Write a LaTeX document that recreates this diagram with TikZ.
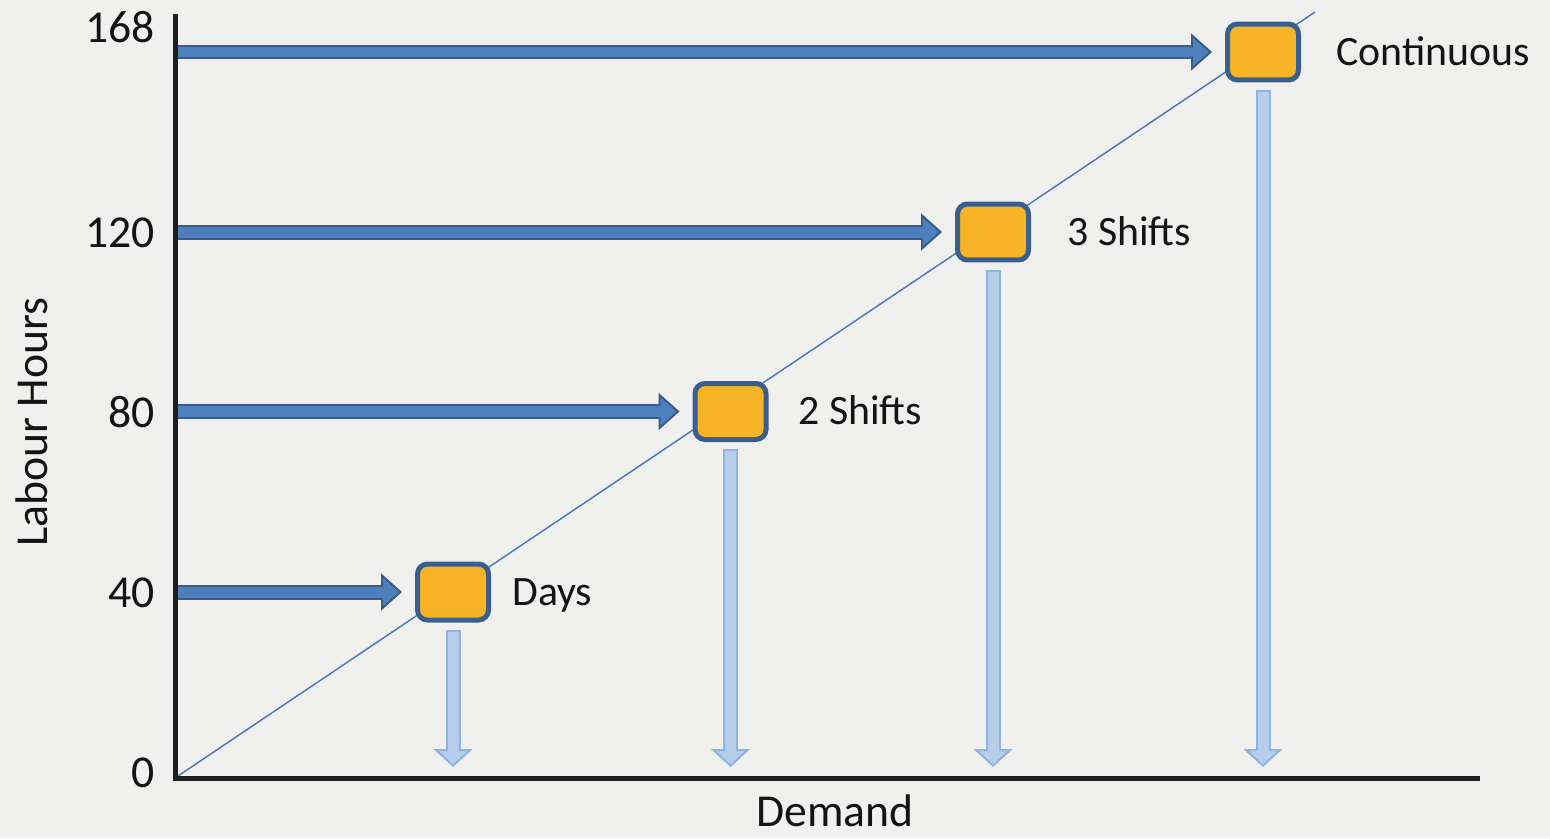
\documentclass[tikz,border=0pt]{standalone}
\usepackage{fontspec}
\setmainfont{Carlito}
\usetikzlibrary{arrows.meta,positioning,calc}
\definecolor{paper}{HTML}{F0F0EF}
\definecolor{txt}{HTML}{141414}
\definecolor{axisline}{HTML}{1C1E1F}
\definecolor{diagline}{HTML}{4A7EBB}
\definecolor{boxfill}{HTML}{F6B426}
\definecolor{boxline}{HTML}{3A5E8E}
\definecolor{hline}{HTML}{375C8D}
\definecolor{hfill}{HTML}{4F80BE}
\definecolor{vline}{HTML}{8EB4E3}
\definecolor{vfill}{HTML}{B6CDEB}
\newcommand\blockarrow[3]{\draw[#1 out] (#2) -- (#3); \draw[#1 in] (#2) -- (#3);}

\begin{document}
\begin{tikzpicture}[x=0.02cm, y=-0.02cm,
  level/.style={draw=boxline, fill=boxfill, line width=0.1cm, rounded corners=0.2cm,
    minimum width=1.42cm, minimum height=1.12cm, inner sep=0pt},
  lbl/.style={font=\fontsize{23.8}{28}\selectfont, text=txt, anchor=west, inner sep=0pt,
    text height=15.2pt, text depth=0pt},
  tick/.style={font=\fontsize{26}{30}\selectfont, text=txt, anchor=east, inner sep=0pt},
  axlabel/.style={font=\fontsize{26}{30}\selectfont, text=txt, inner sep=0pt},
  hours out/.style={line width=0.3cm, draw=hline,
    -{Triangle[length=0.42cm, width=0.74cm, line width=0.04cm, fill=hfill]}, shorten >=0.26cm},
  hours in/.style={line width=0.22cm, draw=hfill, shorten >=0.62cm},
  demand out/.style={line width=0.3cm, draw=vline,
    -{Triangle[length=0.36cm, width=0.78cm, line width=0.04cm, fill=vfill]}, shorten <=0.15cm},
  demand in/.style={line width=0.22cm, draw=vfill, shorten <=0.19cm, shorten >=0.3cm}
]
  %%%%% BACKGROUND %%%%%
  \fill[paper] (0,0) rectangle (1550,838);
  \useasboundingbox (0,0) rectangle (1550,838);

  \coordinate (origin) at (175,778);
  \coordinate (ytop) at (175,14);
  \coordinate (xend) at (1480,778);
  \coordinate (diagend) at (1315,12);

  \draw[diagline, line width=0.03cm] (origin) -- (diagend);

  %%%%% LEVELS %%%%%
  \node[level] (days) at (453,592) {};
  \node[level] (two) at (730.5,411.5) {};
  \node[level] (three) at (993,232) {};
  \node[level] (cont) at (1263,52) {};

  \node[lbl, right=0.42cm of days.east, anchor=west] (daysl) {Days};
  \node[lbl, right=0.59cm of two.east, anchor=west] (twol) {2 Shifts};
  \node[lbl, right=0.72cm of three.east, anchor=west] (threel) {3 Shifts};
  \node[lbl, right=0.70cm of cont.east, anchor=west] (contl) {Continuous};

  %%%%% HOURS ARROWS %%%%%
  \coordinate (h40) at (175,592);
  \coordinate (h80) at (175,411.5);
  \coordinate (h120) at (175,232);
  \coordinate (h168) at (175,52);
  \blockarrow{hours}{h40}{days.west}
  \blockarrow{hours}{h80}{two.west}
  \blockarrow{hours}{h120}{three.west}
  \blockarrow{hours}{h168}{cont.west}

  %%%%% DEMAND ARROWS %%%%%
  \coordinate (d1) at (453,767);
  \coordinate (d2) at (730.5,767);
  \coordinate (d3) at (993,767);
  \coordinate (d4) at (1263,767);
  \blockarrow{demand}{days.south}{d1}
  \blockarrow{demand}{two.south}{d2}
  \blockarrow{demand}{three.south}{d3}
  \blockarrow{demand}{cont.south}{d4}

  %%%%% AXES %%%%%
  \draw[axisline, line width=0.1cm] (ytop) -- (origin) -- (xend);

  \node[tick] (t168) at (155,27) {168};
  \node[tick] (t120) at (155,233) {120};
  \node[tick] (t80) at (155,412) {80};
  \node[tick] (t40) at (155,593) {40};
  \node[tick] (t0) at (155,773) {0};

  \node[axlabel, rotate=90] (ylab) at (32,422) {Labour Hours};
  \node[axlabel] (xlab) at (835,811) {Demand};
\end{tikzpicture}
\end{document}
